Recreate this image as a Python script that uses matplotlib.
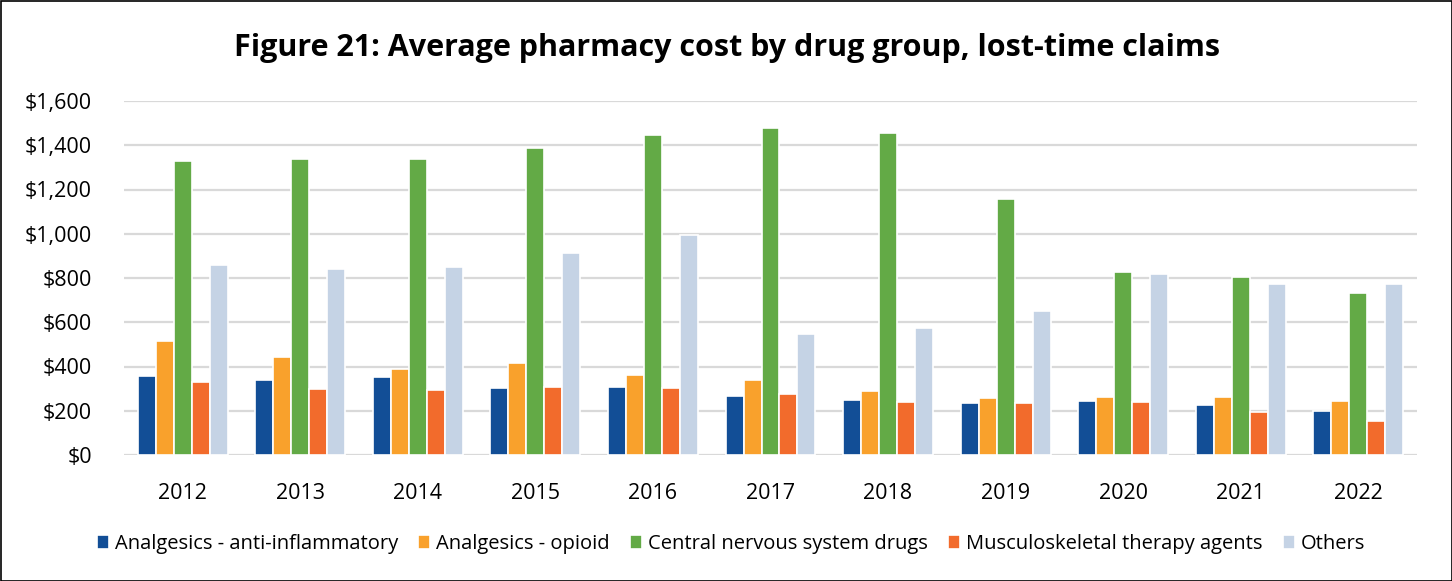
import matplotlib
matplotlib.use("Agg")
import matplotlib.pyplot as plt
import numpy as np
from matplotlib.patches import Rectangle
from matplotlib.ticker import FuncFormatter

years = ["2012", "2013", "2014", "2015", "2016", "2017", "2018", "2019", "2020", "2021", "2022"]
series_names = ["Analgesics - anti-inflammatory", "Analgesics - opioid",
                "Central nervous system drugs", "Musculoskeletal therapy agents", "Others"]
anti_inflammatory = [358, 337, 353, 302, 308, 267, 248, 234, 245, 228, 198]
opioid = [516, 442, 388, 418, 362, 337, 290, 257, 263, 261, 245]
cns = [1330, 1340, 1340, 1386, 1448, 1479, 1454, 1159, 827, 805, 734]
musculoskeletal = [331, 299, 294, 308, 305, 276, 238, 235, 240, 195, 152]
others = [857, 841, 850, 915, 996, 546, 575, 652, 820, 773, 774]
colors = ["#124E96", "#F9A12C", "#63AA46", "#F26B2C", "#C5D3E5"]

plt.rcParams['font.family'] = ['Open Sans', 'DejaVu Sans']

fig = plt.figure(figsize=(14.52, 5.81), dpi=100)
ax = fig.add_axes([124/1452, 1-455/581, (1417-124)/1452, (455-101)/581])

data = [anti_inflammatory, opioid, cns, musculoskeletal, others]
x = np.arange(len(years))
w = 0.153
for i, (vals, c, name) in enumerate(zip(data, colors, series_names)):
    ax.bar(x + (i - 2) * w, vals, width=w, color=c, edgecolor="white", linewidth=1.2,
           label=name, zorder=3)

ax.set_xlim(-0.5, len(years) - 0.5)
ax.set_ylim(0, 1600)
ax.set_yticks(np.arange(0, 1601, 200))
ax.yaxis.set_major_formatter(FuncFormatter(lambda v, p: "${:,.0f}".format(v)))
ax.set_xticks(x)
ax.set_xticklabels(years)
ax.grid(axis="y", color="#D9D9D9", linewidth=1.6, zorder=0)
for s in ax.spines.values():
    s.set_visible(False)
ax.tick_params(axis="both", length=0, labelsize=15.5, colors="black")
ax.tick_params(axis="x", pad=20.5)
ax.tick_params(axis="y", pad=23)

fig.text(727/1452, 1-48/581, "Figure 21: Average pharmacy cost by drug group, lost-time claims",
         ha="center", va="center", fontsize=22, fontweight="bold")

fig.legend(loc="center", bbox_to_anchor=(731/1452, 1-544/581), ncol=5, frameon=False,
           fontsize=14.5, handlelength=0.6, handleheight=0.7, handletextpad=0.3,
           columnspacing=1.0)

fig.patches.append(Rectangle((0.5/1452, 0.5/581), 1-1/1452, 1-1/581, transform=fig.transFigure,
                             fill=False, edgecolor="black", linewidth=1.2))

fig.savefig("out.png", dpi=100)
